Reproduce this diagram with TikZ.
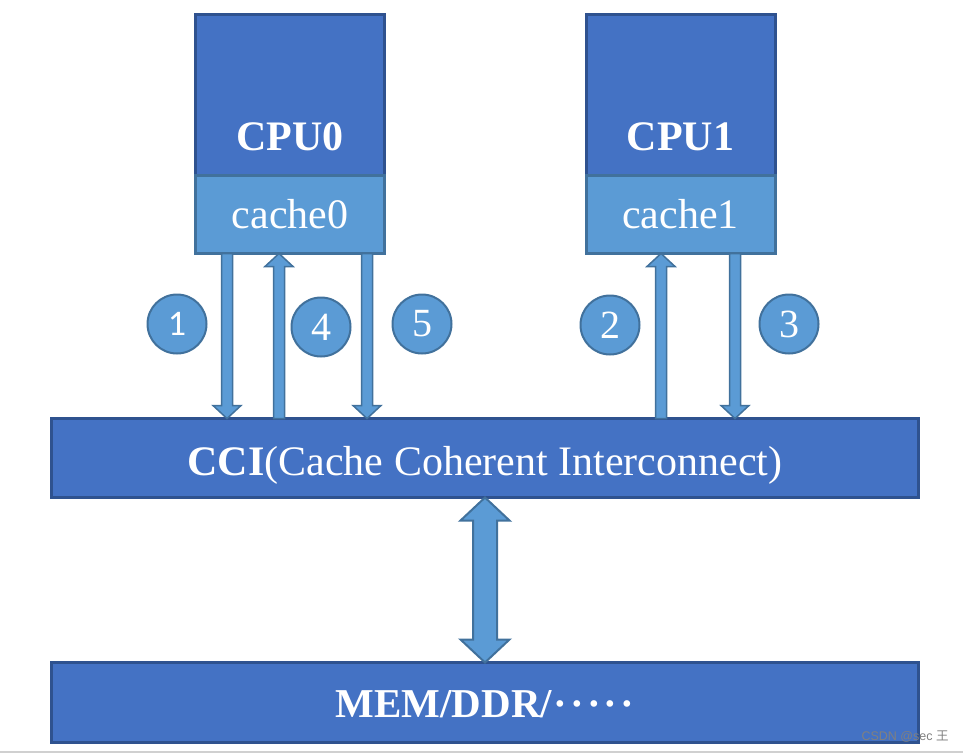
\documentclass[tikz,border=0pt]{standalone}
\usepackage{fontspec}
\setmainfont{Liberation Serif}
\newfontfamily\wmfont{Liberation Sans}
\newfontfamily\cjkfont{Noto Sans CJK SC}
\newfontfamily\onefont{Carlito}
\usetikzlibrary{calc,positioning}
\definecolor{cpublue}{HTML}{4472C4}
\definecolor{cpuedge}{HTML}{2F528F}
\definecolor{cacheblue}{HTML}{5B9BD5}
\definecolor{cacheedge}{HTML}{41719C}
\definecolor{rulegray}{HTML}{D0D0D0}

% thin block arrow from #1 (tail) to #2 (tip), vertical
\newcommand{\blockarrow}[2]{%
  \draw[arrowbody] let \p1=(#1), \p2=(#2), \p3=($(#2)!13pt!(#1)$) in
    (\x1-5.5,\y1) -- (\x1-5.5,\y3) -- (\x1-14,\y3) -- (\x1,\y2)
    -- (\x1+14,\y3) -- (\x1+5.5,\y3) -- (\x1+5.5,\y1) -- cycle;}

\tikzset{
  cpubox/.style={draw=cpuedge, fill=cpublue, line width=3pt, outer sep=0pt, inner sep=0pt, minimum width=189pt},
  cachebox/.style={draw=cacheedge, fill=cacheblue, line width=3pt, outer sep=0pt, inner sep=0pt, minimum width=189pt, minimum height=78.5pt, text=white, font=\fontsize{42}{42}\selectfont},
  busbox/.style={draw=cpuedge, fill=cpublue, line width=3pt, outer sep=0pt, inner sep=0pt, minimum width=867pt, minimum height=79pt},
  boxtext/.style={text=white, anchor=base, inner sep=0pt, font=\fontsize{42}{42}\selectfont},
  num/.style={circle, draw=cacheedge, fill=cacheblue, line width=2pt, minimum size=59pt, inner sep=0pt, text=white, font=\fontsize{40}{40}\selectfont},
  arrowbody/.style={draw=cacheedge, fill=cacheblue, line width=1.5pt, line join=miter},
}

\begin{document}
\begin{tikzpicture}[x=1pt, y=-1pt]
\useasboundingbox (0,0) rectangle (963,753);

% cpus and caches
\node[cpubox, minimum height=160.5pt] (cpu0) at (290,94.75) {};
\node[cachebox, below=0pt of cpu0] (cache0) {cache0};
\node[boxtext] (cpu0txt) at (290,150) {\textbf{CPU0}};
\node[cpubox, minimum height=160.5pt] (cpu1) at (680.5,94.75) {};
\node[cachebox, below=0pt of cpu1] (cache1) {cache1};
\node[boxtext] (cpu1txt) at (680.5,150) {\textbf{CPU1}};

% interconnect and memory
\node[busbox] (cci) at (485,458) {};
\node[boxtext] (ccitxt) at (485,475) {\textbf{CCI}(Cache Coherent Interconnect)};
\node[busbox, minimum height=80pt] (mem) at (485,702.5) {};
\node[boxtext, font=\fontsize{41}{41}\selectfont] (memtxt) at (485,717) {\textbf{MEM/DDR/\kern2pt·\kern3pt·\kern3pt·\kern3pt·\kern3pt·}};

% arrow columns
\coordinate (a1) at (227,0);
\coordinate (a4) at (279,0);
\coordinate (a5) at (367,0);
\coordinate (a2) at (661,0);
\coordinate (a3) at (735,0);
\blockarrow{a1 |- cache0.south}{a1 |- cci.north}
\blockarrow{a4 |- cci.north}{a4 |- cache0.south}
\blockarrow{a5 |- cache0.south}{a5 |- cci.north}
\blockarrow{a2 |- cci.north}{a2 |- cache1.south}
\blockarrow{a3 |- cache1.south}{a3 |- cci.north}

% step numbers
\node[num] (n1) at (177,324) {\onefont\fontsize{36}{36}\selectfont 1};
\node[num] (n4) at (321,327) {4};
\node[num] (n5) at (422,324) {5};
\node[num] (n2) at (610,325) {2};
\node[num] (n3) at (789,324) {3};

% cci <-> memory
\draw[arrowbody, line width=2pt] let \p1=(cci.south), \p2=(mem.north) in
  (\x1,\y1) -- (\x1+24.5,\y1-23) -- (\x1+12,\y1-23) -- (\x1+12,\y2+23) -- (\x1+24.5,\y2+23)
  -- (\x1,\y2) -- (\x1-24.5,\y2+23) -- (\x1-12,\y2+23) -- (\x1-12,\y1-23) -- (\x1-24.5,\y1-23) -- cycle;

% page rule and watermark
\draw[rulegray, line width=1.5pt] (0,752) -- (963,752);
\node[text=gray, inner sep=0pt, font=\wmfont\fontsize{12.5}{12.5}\selectfont] (wm) at (905,737) {CSDN @sec {\cjkfont 王}};
\end{tikzpicture}
\end{document}
